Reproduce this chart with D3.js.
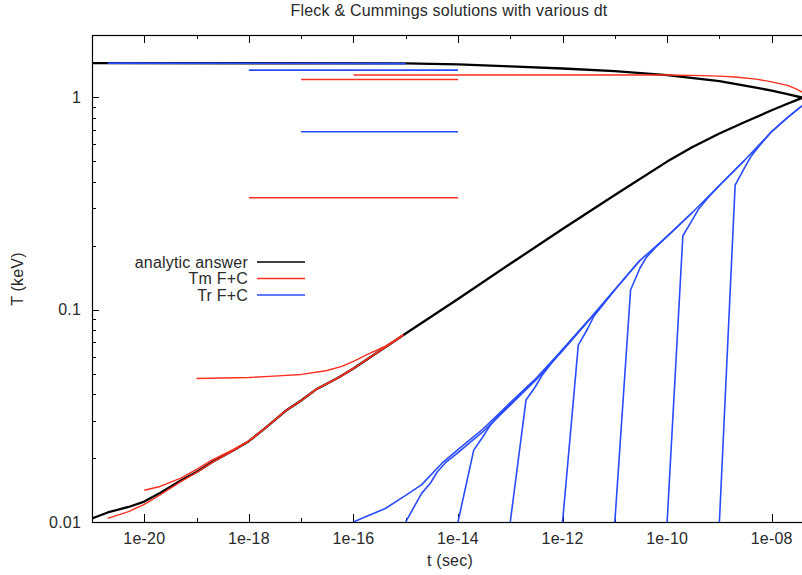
<!DOCTYPE html>
<html>
<head>
<meta charset="utf-8">
<script src="https://cdn.jsdelivr.net/npm/d3@7"></script>
<style>
  body { margin: 0; background: #fff; }
  svg { display: block; }
  text { font-family: "Liberation Sans", Arial, sans-serif; fill: #2a2a2a; letter-spacing: 0.2px; }
</style>
</head>
<body>
<svg id="chart" width="802" height="575"></svg>
<script>
// ---------- DATA (t in sec, T in keV) ----------
const title = "Fleck & Cummings solutions with various dt";
const xLabel = "t (sec)";
const yLabel = "T (keV)";
const legendLabels = ["analytic answer", "Tm F+C", "Tr F+C"];
const xTickValues = [1e-21,1e-20,1e-19,1e-18,1e-17,1e-16,1e-15,1e-14,1e-13,1e-12,1e-11,1e-10,1e-9,1e-8];
const xTickLabels = {"1e-20":"1e-20","1e-18":"1e-18","1e-16":"1e-16","1e-14":"1e-14","1e-12":"1e-12","1e-10":"1e-10","1e-8":"1e-08"};
const yMajorTicks = [0.01, 0.1, 1];
const yTickLabels = ["0.01", "0.1", "1"];

// analytic answer (black)
const analyticUpper = [[1e-21,1.445],[1e-18,1.443],[1e-15,1.440],[1e-14,1.425],[1e-13,1.394],[1e-12,1.363],[1e-11,1.326],[1e-10,1.269],[1e-9,1.189],[5e-9,1.108],[1e-8,1.073],[2e-8,1.033],[3.8e-8,0.995]];
const analyticLower = [[1e-21,0.01039],[2e-21,0.01109],[5e-21,0.01177],[1e-20,0.01248],[2e-20,0.01369],[5e-20,0.01567],[1e-19,0.01719],[2e-19,0.01916],[5e-19,0.0217],[1e-18,0.0240],[2e-18,0.02754],[5e-18,0.03329],[1e-17,0.0373],[2e-17,0.0423],[5e-17,0.0476],[1e-16,0.0528],[1e-15,0.0771],[1e-14,0.1121],[1e-13,0.1642],[1e-12,0.2392],[1e-11,0.346],[1e-10,0.497],[3e-10,0.581],[1e-9,0.674],[3e-9,0.761],[1e-8,0.867],[2e-8,0.931],[3.8e-8,0.991]];

// Tm F+C (red), various dt
const tmA = [[2e-21,0.0104],[5e-21,0.0112],[1e-20,0.0121],[2e-20,0.0134],[5e-20,0.0155],[1e-19,0.0171],[2e-19,0.0191],[5e-19,0.0217],[1e-18,0.0240],[2e-18,0.02754],[5e-18,0.03329],[1e-17,0.0373],[2e-17,0.0423],[5e-17,0.0476],[1e-16,0.0528],[9e-16,0.0757]];
const tmB = [[1e-20,0.0141],[2e-20,0.0147],[5e-20,0.0161],[1e-19,0.0177],[2e-19,0.0196],[5e-19,0.0219],[1e-18,0.0241],[2e-18,0.02754],[5e-18,0.03329],[1e-17,0.0373],[2e-17,0.0423],[5e-17,0.0476],[1e-16,0.0528],[9e-16,0.0760]];
const tmC = [[1e-19,0.0474],[1e-18,0.0479],[3e-18,0.0486],[1e-17,0.0495],[3e-17,0.0515],[6e-17,0.0540],[1e-16,0.0570],[2e-16,0.0620],[4e-16,0.0670],[9e-16,0.0760]];
const tmD = [[1e-16,1.27],[1e-12,1.27],[1e-10,1.27],[5e-10,1.262],[1e-9,1.255],[2e-9,1.244],[5e-9,1.215],[1e-8,1.18],[2e-8,1.135],[3e-8,1.09],[3.8e-8,1.055]];
const tmE = [[1e-17,1.21],[1e-14,1.21]];
const tmF = [[1e-18,0.336],[1e-14,0.336]];

// Tr F+C (blue), various dt
const trTop = [[2e-21,1.445],[1e-18,1.443],[1e-15,1.438]];
const trG = [[1e-18,1.34],[1e-14,1.34]];
const trH = [[1e-17,0.687],[1e-14,0.687]];
const tr1 = [[1e-16,0.0100],[2e-16,0.01075],[4e-16,0.01155],[1e-15,0.01334],[2e-15,0.01496],[5e-15,0.01896],[1e-14,0.0219],[3e-14,0.0274],[1e-13,0.03635],[3e-13,0.0470],[1e-12,0.0648],[3e-12,0.0879],[1e-11,0.1238],[3e-11,0.170],[1e-10,0.221],[3e-10,0.2855],[1e-9,0.3837],[3e-9,0.503],[1e-8,0.688],[2e-8,0.80],[3.8e-8,0.91]];
const tr2 = [[1e-15,0.0100],[2e-15,0.0136],[3e-15,0.0153],[4e-15,0.0172],[6e-15,0.0192],[1e-14,0.0212],[3e-14,0.0266],[1e-13,0.0355],[3e-13,0.0462],[1e-12,0.0640],[3e-12,0.0875],[1e-11,0.1238]];
const tr3 = [[1e-14,0.0100],[2e-14,0.0218],[3e-14,0.0252],[4e-14,0.0282],[6e-14,0.0317],[1e-13,0.0364],[3e-13,0.0470]];
const tr4 = [[1e-13,0.0100],[2e-13,0.0375],[3e-13,0.0432],[4e-13,0.0488],[6e-13,0.0556],[1e-12,0.0648],[3e-12,0.0879]];
const tr5 = [[1e-12,0.0100],[2e-12,0.0680],[3e-12,0.0810],[4e-12,0.0933],[6e-12,0.1055],[1e-11,0.1238],[3e-11,0.170]];
const tr6 = [[1e-11,0.0100],[2e-11,0.1236],[3e-11,0.156],[4e-11,0.176],[6e-11,0.196],[1e-10,0.221],[3e-10,0.2855]];
const tr7 = [[1e-10,0.0100],[2e-10,0.2225],[3e-10,0.263],[4e-10,0.297],[6e-10,0.335],[1e-9,0.3837],[3e-9,0.503]];
const tr8 = [[1e-9,0.0100],[2e-9,0.385],[3e-9,0.463],[4e-9,0.525],[6e-9,0.595],[1e-8,0.688],[2e-8,0.80],[3.8e-8,0.91]];

const analyticSeries = [analyticUpper, analyticLower];
const tmSeries = [tmA, tmB, tmC, tmD, tmE, tmF];
const trSeries = [trTop, trG, trH, tr1, tr2, tr3, tr4, tr5, tr6, tr7, tr8];

// ---------- LAYOUT ----------
const colors = { analytic: "#000000", tm: "#ff3020", tr: "#2a4cff" };
const plot = { left: 92, top: 35, right: 802, bottom: 522 };
const fontSize = 16;

const svg = d3.select("#chart");
const x = d3.scaleLog().domain([1e-21, 3.8e-8]).range([plot.left, plot.right]);
const y = d3.scaleLog().domain([0.01, 1.96]).range([plot.bottom, plot.top]);

svg.append("defs").append("clipPath").attr("id", "clip")
  .append("rect").attr("x", plot.left).attr("y", plot.top)
  .attr("width", plot.right - plot.left + 2).attr("height", plot.bottom - plot.top);

// x ticks (bottom and top)
const labelKey = v => "1e" + Math.round(Math.log10(v));
const gx = svg.append("g");
xTickValues.forEach(v => {
  const px = Math.round(x(v)) + 0.5;
  const major = xTickLabels[labelKey(v)] !== undefined;
  const len = major ? 8 : 4;
  if (v > 1e-21) {
    gx.append("line").attr("x1", px).attr("x2", px).attr("y1", plot.bottom).attr("y2", plot.bottom - len)
      .attr("stroke", "#000").attr("stroke-width", 1);
    gx.append("line").attr("x1", px).attr("x2", px).attr("y1", plot.top).attr("y2", plot.top + len)
      .attr("stroke", "#000").attr("stroke-width", 1);
  }
  if (major) {
    gx.append("text").attr("x", x(v)).attr("y", 544).attr("text-anchor", "middle")
      .attr("font-size", fontSize).text(xTickLabels[labelKey(v)]);
  }
});

// y ticks
const gy = svg.append("g");
const yMinor = [];
[0.01, 0.1, 1].forEach(d => { for (let m = 2; m <= 9; m++) { const v = d * m; if (v < 1.96) yMinor.push(v); } });
yMinor.forEach(v => {
  const py = Math.round(y(v)) + 0.5;
  gy.append("line").attr("x1", plot.left).attr("x2", plot.left + 4).attr("y1", py).attr("y2", py)
    .attr("stroke", "#000");
});
yMajorTicks.forEach((v, i) => {
  const py = Math.round(y(v)) + 0.5;
  gy.append("line").attr("x1", plot.left).attr("x2", plot.left + 7).attr("y1", py).attr("y2", py)
    .attr("stroke", "#000");
  gy.append("text").attr("x", 81).attr("y", y(v)).attr("dy", "0.35em").attr("text-anchor", "end")
    .attr("font-size", fontSize).text(yTickLabels[i]);
});

// border (right side lies just outside the canvas)
svg.append("rect").attr("x", plot.left + 0.5).attr("y", plot.top + 0.5)
  .attr("width", 714).attr("height", plot.bottom - plot.top)
  .attr("fill", "none").attr("stroke", "#000").attr("stroke-width", 1.2);

// lines
const line = d3.line().x(d => x(d[0])).y(d => y(d[1]));
const gData = svg.append("g").attr("clip-path", "url(#clip)");
analyticSeries.forEach(s => gData.append("path").attr("d", line(s)).attr("fill", "none")
  .attr("stroke", colors.analytic).attr("stroke-width", 2.3).attr("stroke-linejoin", "round"));
tmSeries.forEach(s => gData.append("path").attr("d", line(s)).attr("fill", "none")
  .attr("stroke", colors.tm).attr("stroke-width", 1.4).attr("stroke-linejoin", "round"));
trSeries.forEach(s => gData.append("path").attr("d", line(s)).attr("fill", "none")
  .attr("stroke", colors.tr).attr("stroke-width", 1.6).attr("stroke-linejoin", "round"));

// legend
const legendColors = [colors.analytic, colors.tm, colors.tr];
legendLabels.forEach((lab, i) => {
  const ly = 262 + i * 16.5;
  svg.append("text").attr("x", 248).attr("y", ly).attr("dy", "0.35em").attr("text-anchor", "end")
    .attr("font-size", fontSize).text(lab);
  svg.append("line").attr("x1", 257).attr("x2", 305).attr("y1", ly).attr("y2", ly)
    .attr("stroke", legendColors[i]).attr("stroke-width", 1.6);
});

// title and axis labels
svg.append("text").attr("x", 449).attr("y", 16).attr("text-anchor", "middle").attr("font-size", fontSize).text(title);
svg.append("text").attr("x", 450).attr("y", 566).attr("text-anchor", "middle").attr("font-size", fontSize).text(xLabel);
svg.append("text").attr("transform", "translate(23,279) rotate(-90)").attr("text-anchor", "middle")
  .attr("font-size", fontSize).text(yLabel);
</script>
</body>
</html>
